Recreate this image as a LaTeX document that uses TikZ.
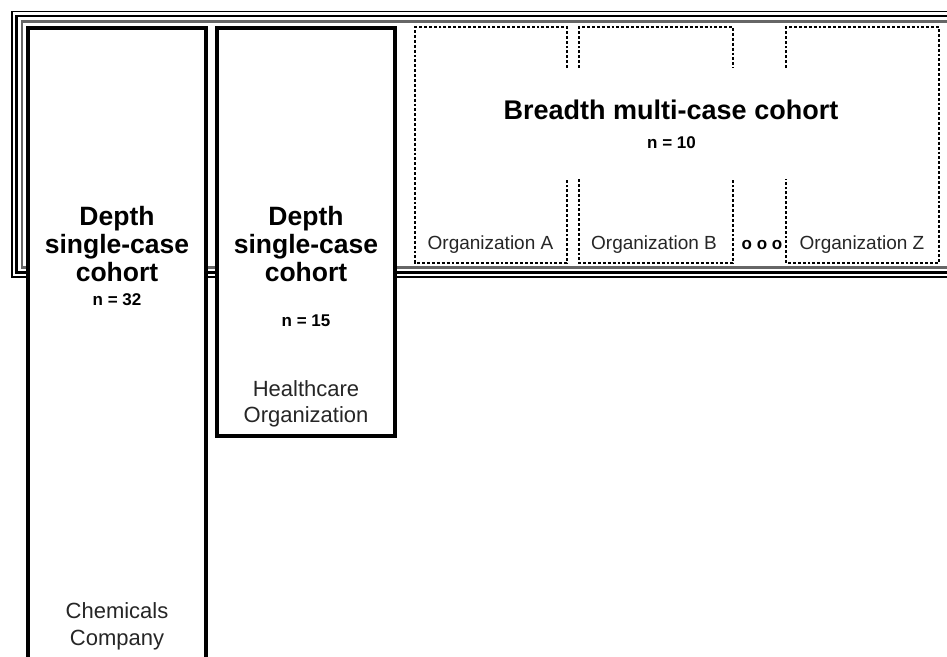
\documentclass[tikz,border=0pt]{standalone}
\usepackage{fontspec}
\setmainfont{Liberation Sans}
\begin{document}
\begin{tikzpicture}[x=1pt,y=-1pt,
  rimouter/.style={draw=black,line width=1.5pt},
  rimmid/.style={draw=black,line width=2.6pt},
  riminner/.style={draw=black!60,line width=2.4pt},
  cohortbox/.style={draw=black,line width=4pt,fill=white,rectangle,
    inner sep=0pt,outer sep=0pt,anchor=north west},
  orgbox/.style={rectangle,inner sep=0pt,outer sep=0pt,anchor=north west},
  dotline/.style={draw=black,line width=2.9pt,dash pattern=on 2.9pt off 2pt},
  headtext/.style={font=\fontsize{26.5}{28}\selectfont\bfseries,anchor=base,inner sep=0pt},
  ncount/.style={font=\fontsize{17}{19}\selectfont\bfseries,anchor=base,inner sep=0pt},
  plaintext/.style={font=\fontsize{22}{26}\selectfont,text=black!85,anchor=base,inner sep=0pt},
  orgtext/.style={font=\fontsize{19}{22}\selectfont,text=black!85,anchor=base,inner sep=0pt}
]
\clip (0,0) rectangle (947,656);
\fill[white] (0,0) rectangle (947,656);

% triple-ruled frame around the whole study (runs off to the right)
\draw[rimouter] (12,11.5) rectangle (980,277);
\draw[rimmid] (16.5,16) rectangle (980,272.5);
\draw[riminner] (22,21.5) rectangle (980,267.5);

% depth cohorts: heavy boxes
\node[cohortbox,minimum width=178pt,minimum height=650pt] (chem) at (28,28) {};
\node[cohortbox,minimum width=178pt,minimum height=408pt] (health) at (217,28) {};

\node[headtext] (chemT1) at (117,225) {Depth};
\node[headtext] (chemT2) at (117,253) {single-case};
\node[headtext] (chemT3) at (117,281) {cohort};
\node[ncount] (chemN) at (117,305) {n = 32};
\node[plaintext] (chemL1) at (117,618) {Chemicals};
\node[plaintext] (chemL2) at (117,645) {Company};

\node[headtext] (healthT1) at (306,225) {Depth};
\node[headtext] (healthT2) at (306,253) {single-case};
\node[headtext] (healthT3) at (306,281) {cohort};
\node[ncount] (healthN) at (306,326) {n = 15};
\node[plaintext] (healthL1) at (306,396) {Healthcare};
\node[plaintext] (healthL2) at (306,422) {Organization};

% breadth cohort: dotted organization boxes, open toward the middle
\coordinate (gapTop) at (0,68);
\coordinate (gapBot) at (0,179);
\node[orgbox,minimum width=152pt,minimum height=236pt] (orgA) at (415,27) {};
\node[orgbox,minimum width=154pt,minimum height=236pt] (orgB) at (579,27) {};
\node[orgbox,minimum width=153pt,minimum height=236pt] (orgZ) at (786,27) {};

\draw[dotline] (orgA.north east |- gapTop) -- (orgA.north east) -- (orgA.north west)
  -- (orgA.south west) -- (orgA.south east) -- (orgA.south east |- gapBot);
\draw[dotline] (orgB.north west |- gapTop) -- (orgB.north west) -- (orgB.north east)
  -- (orgB.north east |- gapTop);
\draw[dotline] (orgB.south west |- gapBot) -- (orgB.south west) -- (orgB.south east)
  -- (orgB.south east |- gapBot);
\draw[dotline] (orgZ.north west |- gapTop) -- (orgZ.north west) -- (orgZ.north east)
  -- (orgZ.south east) -- (orgZ.south west) -- (orgZ.south west |- gapBot);

\node[headtext,font=\fontsize{27}{29}\selectfont\bfseries] (breadthT) at (671,119) {Breadth multi-case cohort};
\node[ncount] (breadthN) at (671.5,148) {n = 10};

\node[orgtext] (orgAL) at (490.5,249) {Organization A};
\node[orgtext] (orgBL) at (654,249) {Organization B};
\node[ncount] (dots) at (762,249) {o o o};
\node[orgtext] (orgZL) at (862,249) {Organization Z};
\end{tikzpicture}
\end{document}
